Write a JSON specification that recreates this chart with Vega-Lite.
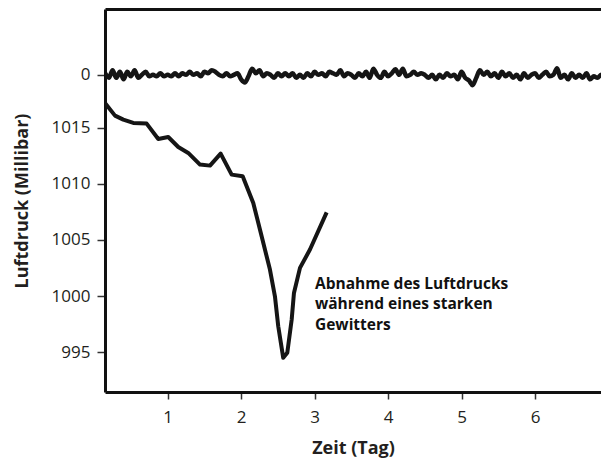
{
  "$schema": "https://vega.github.io/schema/vega-lite/v6.json",
  "width": 496,
  "height": 383,
  "autosize": {"type": "none"},
  "padding": {"left": 105, "top": 9, "right": 0, "bottom": 69},
  "background": "white",
  "config": {"view": {"stroke": null}, "font": "Open Sans"},
  "datasets": {
    "noise": [
      {"d":0.15,"p":1019.84},{"d":0.20,"p":1019.43},{"d":0.25,"p":1020.11},{"d":0.30,"p":1019.43},{"d":0.35,"p":1019.97},
      {"d":0.40,"p":1019.30},{"d":0.45,"p":1019.97},{"d":0.50,"p":1019.57},{"d":0.55,"p":1020.11},{"d":0.60,"p":1019.43},
      {"d":0.65,"p":1019.70},{"d":0.70,"p":1019.97},{"d":0.75,"p":1019.57},{"d":0.80,"p":1019.70},{"d":0.85,"p":1019.57},
      {"d":0.90,"p":1019.84},{"d":0.95,"p":1019.57},{"d":1.00,"p":1019.70},{"d":1.05,"p":1019.57},{"d":1.10,"p":1019.84},
      {"d":1.15,"p":1019.57},{"d":1.20,"p":1019.84},{"d":1.25,"p":1019.70},{"d":1.30,"p":1019.97},{"d":1.35,"p":1019.70},
      {"d":1.40,"p":1019.84},{"d":1.45,"p":1019.57},{"d":1.50,"p":1019.97},{"d":1.55,"p":1019.84},{"d":1.60,"p":1020.11},
      {"d":1.65,"p":1019.97},{"d":1.70,"p":1019.70},{"d":1.75,"p":1019.57},{"d":1.80,"p":1019.84},{"d":1.85,"p":1019.57},
      {"d":1.90,"p":1019.70},{"d":1.95,"p":1019.84},{"d":2.00,"p":1019.30},{"d":2.05,"p":1019.02},{"d":2.10,"p":1019.57},
      {"d":2.15,"p":1020.25},{"d":2.20,"p":1019.84},{"d":2.25,"p":1020.11},{"d":2.30,"p":1019.57},{"d":2.35,"p":1019.84},
      {"d":2.40,"p":1019.70},{"d":2.45,"p":1019.43},{"d":2.50,"p":1019.84},{"d":2.55,"p":1019.57},{"d":2.60,"p":1019.84},
      {"d":2.65,"p":1019.57},{"d":2.70,"p":1019.84},{"d":2.75,"p":1019.43},{"d":2.80,"p":1019.70},{"d":2.85,"p":1019.43},
      {"d":2.90,"p":1019.84},{"d":2.95,"p":1019.57},{"d":3.00,"p":1019.97},{"d":3.05,"p":1019.70},{"d":3.10,"p":1019.84},
      {"d":3.15,"p":1019.57},{"d":3.20,"p":1019.97},{"d":3.25,"p":1019.84},{"d":3.30,"p":1019.70},{"d":3.35,"p":1020.11},
      {"d":3.40,"p":1019.57},{"d":3.45,"p":1019.84},{"d":3.50,"p":1019.70},{"d":3.55,"p":1019.43},{"d":3.60,"p":1019.84},
      {"d":3.65,"p":1019.57},{"d":3.70,"p":1019.97},{"d":3.75,"p":1019.43},{"d":3.80,"p":1020.25},{"d":3.85,"p":1019.70},
      {"d":3.90,"p":1019.43},{"d":3.95,"p":1019.97},{"d":4.00,"p":1019.57},{"d":4.05,"p":1019.84},{"d":4.10,"p":1020.20},
      {"d":4.15,"p":1019.70},{"d":4.20,"p":1020.25},{"d":4.25,"p":1019.57},{"d":4.30,"p":1019.70},{"d":4.35,"p":1019.97},
      {"d":4.40,"p":1019.70},{"d":4.45,"p":1019.84},{"d":4.50,"p":1019.70},{"d":4.55,"p":1019.43},{"d":4.60,"p":1019.70},
      {"d":4.65,"p":1019.30},{"d":4.70,"p":1019.70},{"d":4.75,"p":1019.43},{"d":4.80,"p":1019.84},{"d":4.85,"p":1019.57},
      {"d":4.90,"p":1019.70},{"d":4.95,"p":1019.30},{"d":5.00,"p":1019.97},{"d":5.05,"p":1019.43},{"d":5.10,"p":1019.20},
      {"d":5.15,"p":1018.78},{"d":5.20,"p":1019.43},{"d":5.25,"p":1020.11},{"d":5.30,"p":1019.70},{"d":5.35,"p":1019.97},
      {"d":5.40,"p":1019.57},{"d":5.45,"p":1019.84},{"d":5.50,"p":1019.43},{"d":5.55,"p":1019.97},{"d":5.60,"p":1019.57},
      {"d":5.65,"p":1019.84},{"d":5.70,"p":1019.43},{"d":5.75,"p":1019.70},{"d":5.80,"p":1019.30},{"d":5.85,"p":1019.84},
      {"d":5.90,"p":1019.43},{"d":5.95,"p":1019.70},{"d":6.00,"p":1019.84},{"d":6.05,"p":1019.43},{"d":6.10,"p":1019.70},
      {"d":6.15,"p":1019.97},{"d":6.20,"p":1019.57},{"d":6.25,"p":1019.70},{"d":6.30,"p":1020.28},{"d":6.35,"p":1019.43},
      {"d":6.40,"p":1019.70},{"d":6.45,"p":1019.30},{"d":6.50,"p":1019.84},{"d":6.55,"p":1019.43},{"d":6.60,"p":1019.70},
      {"d":6.65,"p":1019.43},{"d":6.70,"p":1019.84},{"d":6.75,"p":1019.30},{"d":6.80,"p":1019.57},{"d":6.85,"p":1019.43},
      {"d":6.90,"p":1019.70},{"d":6.95,"p":1019.57}
    ],
    "pressure": [
      {"d":0.147,"p":1017.20},{"d":0.283,"p":1016.07},{"d":0.396,"p":1015.71},{"d":0.532,"p":1015.42},
      {"d":0.714,"p":1015.36},{"d":0.872,"p":1013.99},{"d":1.008,"p":1014.17},{"d":1.144,"p":1013.28},
      {"d":1.280,"p":1012.75},{"d":1.440,"p":1011.71},{"d":1.576,"p":1011.62},{"d":1.721,"p":1012.69},
      {"d":1.871,"p":1010.82},{"d":2.021,"p":1010.67},{"d":2.165,"p":1008.30},{"d":2.279,"p":1005.33},
      {"d":2.392,"p":1002.37},{"d":2.460,"p":999.99},{"d":2.505,"p":997.32},{"d":2.573,"p":994.51},
      {"d":2.628,"p":994.96},{"d":2.688,"p":997.92},{"d":2.719,"p":1000.29},{"d":2.801,"p":1002.52},
      {"d":2.937,"p":1004.15},{"d":3.164,"p":1007.46}
    ],
    "notes": [
      {"d":3.005,"p":1000.68,"label":"Abnahme des Luftdrucks\nwährend eines starken\nGewitters"}
    ]
  },
  "resolve": {"axis": {"x": "independent"}},
  "layer": [
    {
      "data": {"name": "noise"},
      "mark": {"type": "line", "color": "#151515", "strokeWidth": 4.5, "interpolate": "monotone", "clip": true},
      "encoding": {
        "x": {
          "field": "d", "type": "quantitative",
          "scale": {"domain": [0.147, 6.898], "nice": false, "zero": false},
          "axis": {
            "values": [1, 2, 3, 4, 5, 6], "title": "Zeit (Tag)", "grid": false,
            "domainColor": "#111", "domainWidth": 3,
            "tickColor": "#333", "tickWidth": 1.5, "tickSize": 7,
            "labelFont": "Open Sans", "labelFontSize": 17, "labelColor": "#231f20", "labelPadding": 10,
            "titleFont": "Open Sans", "titleFontSize": 18, "titleFontWeight": "bold", "titleColor": "#231f20", "titlePadding": 14
          }
        },
        "y": {
          "field": "p", "type": "quantitative",
          "scale": {"domain": [991.47, 1025.56], "nice": false, "zero": false},
          "axis": {
            "values": [995, 1000, 1005, 1010, 1015, 1019.7], "format": "d",
            "labelExpr": "datum.value > 1019 ? '0' : datum.label",
            "title": "Luftdruck (Millibar)", "grid": false,
            "domainColor": "#111", "domainWidth": 3,
            "tickColor": "#333", "tickWidth": 1.5, "tickSize": 8,
            "labelFont": "Open Sans", "labelFontSize": 17, "labelColor": "#231f20", "labelPadding": 7,
            "titleFont": "Open Sans", "titleFontSize": 18, "titleFontWeight": "bold", "titleColor": "#231f20", "titlePadding": 20
          }
        }
      }
    },
    {
      "data": {"name": "pressure"},
      "mark": {"type": "line", "color": "#151515", "strokeWidth": 4, "strokeJoin": "round", "clip": true},
      "encoding": {
        "x": {"field": "d", "type": "quantitative",
          "axis": {"orient": "top", "labels": false, "ticks": false, "title": null, "grid": false, "domainColor": "#111", "domainWidth": 3}},
        "y": {"field": "p", "type": "quantitative"}
      }
    },
    {
      "data": {"name": "notes"},
      "mark": {"type": "text", "align": "left", "baseline": "alphabetic", "font": "Open Sans", "fontWeight": "bold", "fontSize": 15.5, "lineBreak": "\n", "lineHeight": 20.5, "color": "#111"},
      "encoding": {
        "x": {"field": "d", "type": "quantitative", "axis": null},
        "y": {"field": "p", "type": "quantitative"},
        "text": {"field": "label"}
      }
    }
  ]
}
